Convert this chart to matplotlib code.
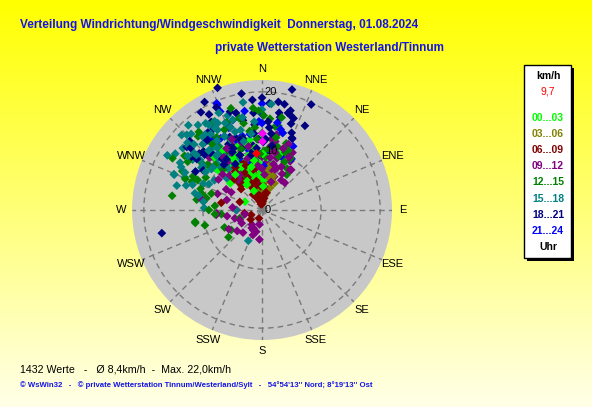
import numpy as np
import matplotlib
matplotlib.use("Agg")
import matplotlib.pyplot as plt
from matplotlib.patches import Rectangle

# ---------------- data (direction in degrees, speed in km/h) ----------------
hour_labels = ["00...03", "03...06", "06...09", "09...12", "12...15", "15...18", "18...21", "21...24"]
hour_colors = ["#00ff00", "#808000", "#800000", "#800080", "#008000", "#008080", "#000080", "#0000ff"]

dir_00_03 = [325,331,335,340,345,350,355,0,4,8,12,18,349,308,324,338,342,347,352,330,
             320,315,333,336,343,346,351,357,2,6,296,310,328,334,339,344,348,353,358,341,
             322,326,329,332,337,341,344,347,350,353,356,359,1,3,318,312,327,333,339,345,
             351,335,329,323,343,348,354,337,331,346]
spd_00_03 = [11.7,7.1,6,5,8,12.1,9,7,7.3,6.5,8,10,10,11.6,11.1,9,4,6.5,5.5,10,
             9,8,12.5,13,11,9.5,4.5,6,5,9,3.2,7,8,10.5,7.5,3,11,8.5,12,6,
             9.5,10.5,6.5,8.5,10,7,9,11.5,7.5,10.5,8,6.5,9.5,4,12,10,12,5.5,11.5,6.5,
             8.5,8,5,7.5,12.5,5.5,10.5,3.5,9.5,7.5]

dir_03_06 = [6,10,350,346,355,0,5,15,340,335,352,358,3,8,20,345,330,12,348,356,
             2,7,12,18,25,350,354,358,4,9,342,338,14,1,6]
spd_03_06 = [4.8,5.5,1.7,3.8,2.5,3,6,5,4,6.5,5,7,2,3.5,4,7.5,5,6.5,2.2,4.2,
             5.5,3,2.5,6,5,6,4.5,3.5,7,7.5,6,5,3,4,1.2]

dir_06_09 = [350,345,340,335,330,355,348,342,338,333,352,346,341,336,331,358,349,344,339,334,
             345,340,335,330,325,350,343,337,332,327,280,246,200,10,15,5,320,315,325,0,
             338,342,336,344,346,
             347,341,337,333,329,351,354,357,344,339,335,326,322,318,348,343,340,328,0,5,
             12,290,260,230,349]
spd_06_09 = [1,1.5,2,2.5,3,3,3.5,4,4.5,5,5,5.5,6,6.5,7,2,6,7,7.5,8,
             8,8.5,9,8,7,4,3,5,6,7.5,7,2,1.5,2,3,4,6,5,8,1,
             3.5,2.5,5.5,6.5,4.5,
             2.5,3,4,5.5,6,2.5,1.5,4,4.5,6,7,6,5.5,7,7,5,8,8.5,2,1.5,
             3,4,3,2.5,5]

dir_09_12 = [16,36,13,270,237,204,200,253,205,264,286,266,246,280,310,11,11,15,35,16,
             25,30,20,5,0,355,350,345,340,330,320,300,290,260,230,215,190,22,28,8,
             12,18,340,335,325,315,305,350,3,7,
             355,352,348,344,338,332,327,322,317,0,4,9,14,19,24,29,33,40,343,337,
             330,324,19,13,8,210,220,240,256,275,195,185,300,312,27]
spd_09_12 = [6.8,8.4,6.5,4.3,4.1,3.7,4.5,4.8,3.4,7.8,6.2,7.7,4.1,10.4,11.5,13,11.8,7,8.3,9.1,
             10.5,9.5,6,8,9,10,7,5,6,8.5,9.5,7,8,6,5.5,3,2.5,12,11,12.2,
             10,5,11,12,10,12.5,9,4.5,4,10.5,
             7.5,8.5,11,9,10,11,7,6.5,8,7,6,9,8,7.5,8,7,6,6,12,13,
             12,11,11,10,11,3.5,5,6.5,3,5,3.8,5,6,9,10]

dir_12_15 = [279,296,292,285,260,264,279,282,259,237,231,250,355,11,9,15,31,35,296,292,
             300,310,320,330,340,350,0,5,20,25,315,305,325,335,345,355,2,8,14,275,
             288,312,318,328,338,348,358,22,4,332,
             303,308,314,319,323,327,331,336,341,346,351,356,1,6,11,17,24,29,300,295,
             289,270,265,255,245,316,321,343,358,12]
spd_12_15 = [15.4,15,12.8,10.5,11.5,6.9,11.2,9.6,11.5,6.2,7.3,4,17.3,14.5,14.3,13.5,8.2,7.3,13,14,
             11,12,10,9,8,11,13,15.5,12,9,14,16,13,15,12.5,14,10,12,11,8,
             9,10.5,12.5,14.5,16,15,16.8,10.5,9,6.5,
             15,13,11,16.5,14,11.5,17,13,11,16,13.5,12,16,10.5,12.5,9.5,11,10,17.5,12,
             11,9,8,10,7,9.5,17,18,9.5,16]

dir_15_18 = [313,317,308,333,292,293,284,272,294,270,204,292,310,315,320,325,330,335,340,345,
             300,305,318,322,328,312,316,326,331,336,302,298,288,323,327,319,311,306,334,338,
             342,350,355,0,5,329,321,314,309,324,
             300,303,306,309,312,315,318,321,324,327,330,333,336,339,307,311,316,320,325,310,
             296,290,286,283,278,319,323,328,332,337,341,345,348,352,296,304,314,300,326,318]
spd_15_18 = [18.6,17.6,17,16.5,16,14.2,11.7,9.8,10.9,4.4,5.7,16.1,15,14,13.5,12,11,15,17,14,
             13,12.5,11.5,10,9,8,10.5,13,15.5,18,9.5,15.5,13.5,16,17.5,12.5,16.5,14.5,12,10,
             16,18.5,15,17,18,7,9,8,11,6,
             16,17.5,15.5,13.5,17,18,15,16,13,14,16,14,13,15,12.5,11,10,12,11,14.5,
             14.5,12.5,15,11,10,19,18,17,17,16,14,12,16,13,10,11.5,16,18.5,15.5,13.5]

dir_18_21 = [340,332,331,330,338,355,355,355,8.6,15,19,22.5,25,4,310,313.6,312,330,257,336,
             328,325,320,345,350,0,10,12,17,18.6,23,14,5,340,335,318,322,326,352,2,
             342,348,315,300,306,
             327,329,333,336,339,342,345,348,351,354,357,1,4,7,11,16,21,27,322,318,
             314,311,308,304,333,338,343,349,355,3,9,325,330,335,320]
spd_18_21 = [22.0,20.7,18.5,17.2,15.9,18.7,16.5,14.5,18.5,17,16.4,13.2,19.7,18.1,16.6,16.9,14.3,9.8,17.4,19,
             19.5,16,15,17,20,19,16.7,18.3,16.7,15.4,13.1,21,14,13,12,12.5,11,14,11,12,
             17.5,15.5,14,13,15,
             14,16,12.5,13.5,15,11,12.5,16,10,13,12,11.5,15,13,16,17.5,14,16,15,13,
             13.5,16,14,12,11,10,12.5,9.5,10.5,12,11,10.5,9,11.5,10]

dir_21_24 = [0,0,0,337,20,0,337,337,338,318,20,345,350,330,325,5,10,355,15,342,
             333,340,347,351,358,3,8,13,26,325,318,336,344,2,30]
spd_21_24 = [18,16.2,14.7,19.6,9.6,11.9,19.3,18.1,15,11.8,11,13,17,14,12,10,15,9,13.5,16,
             14,12.5,10.5,13,15,12,9,14,12,15,13,9.5,8,7.5,10]

highlight_dir = [0, 0]
highlight_spd = [13.1, 11.6]
mean_dir = [354]
mean_spd = [9.7]

groups_dir = [dir_00_03, dir_03_06, dir_06_09, dir_09_12, dir_12_15, dir_15_18, dir_18_21, dir_21_24]
groups_spd = [spd_00_03, spd_03_06, spd_06_09, spd_09_12, spd_12_15, spd_15_18, spd_18_21, spd_21_24]

compass = ["N", "NNE", "NE", "ENE", "E", "ESE", "SE", "SSE",
           "S", "SSW", "SW", "WSW", "W", "WNW", "NW", "NNW"]
ring_values = [0, 10, 20]
r_max = 22

title1 = "Verteilung Windrichtung/Windgeschwindigkeit  Donnerstag, 01.08.2024"
title2 = "private Wetterstation Westerland/Tinnum"
stats_text = "1432 Werte   -   \u00d8 8,4km/h  -  Max. 22,0km/h"
footer_text = "\u00a9 WsWin32   -   \u00a9 private Wetterstation Tinnum/Westerland/Sylt   -   54\u00b054'13'' Nord; 8\u00b019'13'' Ost"
mean_label = "9,7"

# ---------------- figure ----------------
W, H = 592, 407
fig = plt.figure(figsize=(W / 100, H / 100), dpi=100)

def fx(px):
    return px / W

def fy(py):
    return 1 - py / H

# background gradient
bg = fig.add_axes([0, 0, 1, 1], zorder=-10)
grad = np.linspace(0, 232, 256) / 255.0
img = np.zeros((256, 2, 3))
img[:, :, 0] = 1
img[:, :, 1] = 1
img[:, :, 2] = grad[:, None]
bg.imshow(img, aspect="auto", extent=[0, 1, 0, 1], origin="upper")
bg.axis("off")

cx, cy, rad = 262, 210, 130
ax = fig.add_axes([fx(cx - rad), fy(cy + rad), 2 * rad / W, 2 * rad / H], projection="polar")
ax.set_facecolor("#c8c8c8")
ax.set_theta_zero_location("N")
ax.set_theta_direction(-1)
ax.set_ylim(0, r_max)
ax.set_xticks(np.deg2rad(np.arange(0, 360, 22.5)))
ax.set_xticklabels([])
ax.set_yticks([10, 20])
ax.set_yticklabels([])
ax.grid(True, color="#7a7a7a", linestyle=(0, (4, 3)), linewidth=1.0)
ax.spines["polar"].set_visible(False)

for i, lab in enumerate(compass):
    ax.text(np.deg2rad(i * 22.5), 23.9, lab, ha="center", va="center",
            fontsize=8, family="Liberation Sans", color="black", clip_on=False)

# interleave the hour groups so that the colours mix like in a time-ordered plot
all_t, all_r, all_c = [], [], []
max_len = max(len(d) for d in groups_dir)
for k in range(max_len):
    for gi in range(len(groups_dir)):
        if k < len(groups_dir[gi]):
            all_t.append(groups_dir[gi][k])
            all_r.append(groups_spd[gi][k])
            all_c.append(hour_colors[gi])
ax.scatter(np.deg2rad(all_t), all_r, marker="D", s=20, c=all_c, linewidths=0, clip_on=False, zorder=3)
ax.scatter(np.deg2rad(highlight_dir), highlight_spd, marker="D", s=20, color="#ff00ff", linewidths=0, zorder=4)
ax.scatter(np.deg2rad(mean_dir), mean_spd, marker="D", s=20, color="#ff0000", linewidths=0, zorder=4)

for rv in ring_values:
    ax.annotate(str(rv), xy=(0, rv), xytext=(2, 0), textcoords="offset points",
                ha="left", va="center", fontsize=8, family="Liberation Sans", color="black", zorder=6)

# titles
fig.text(fx(20), fy(25), title1, ha="left", va="center", fontsize=8.5, fontweight="bold",
         family="Liberation Sans", color="#1414e6")
fig.text(fx(215), fy(48), title2, ha="left", va="center", fontsize=8.5, fontweight="bold",
         family="Liberation Sans", color="#1414e6")

fig.text(fx(20), fy(369), stats_text, ha="left", va="center", fontsize=7.7,
         family="Liberation Sans", color="black")
fig.text(fx(20), fy(385), footer_text, ha="left", va="center", fontsize=5.6, fontweight="bold",
         family="Liberation Sans", color="#1414e6")

# legend box
x0, x1, y0, y1 = 524, 571, 65, 258
fig.patches.append(Rectangle((fx(x0 + 3), fy(y1 + 3)), (x1 - x0) / W, (y1 - y0) / H,
                             transform=fig.transFigure, facecolor="black", edgecolor="none", zorder=1))
fig.patches.append(Rectangle((fx(x0), fy(y1)), (x1 - x0) / W, (y1 - y0) / H,
                             transform=fig.transFigure, facecolor="white", edgecolor="black",
                             linewidth=1, zorder=2))
lx = fx(548)
fig.text(lx, fy(76), "km/h", ha="center", va="center", fontsize=7.5, fontweight="bold",
         family="Liberation Sans", color="black", zorder=3)
fig.text(lx, fy(92), mean_label, ha="center", va="center", fontsize=7.5,
         family="Liberation Sans", color="#ff0000", zorder=3)
for i, (lab, c) in enumerate(zip(hour_labels, hour_colors)):
    fig.text(lx, fy(118 + i * 16.1), lab, ha="center", va="center", fontsize=7.5, fontweight="bold",
             family="Liberation Sans", color=c, zorder=3)
fig.text(lx, fy(247), "Uhr", ha="center", va="center", fontsize=7.5, fontweight="bold",
         family="Liberation Sans", color="black", zorder=3)

fig.savefig("out.png", dpi=100)
